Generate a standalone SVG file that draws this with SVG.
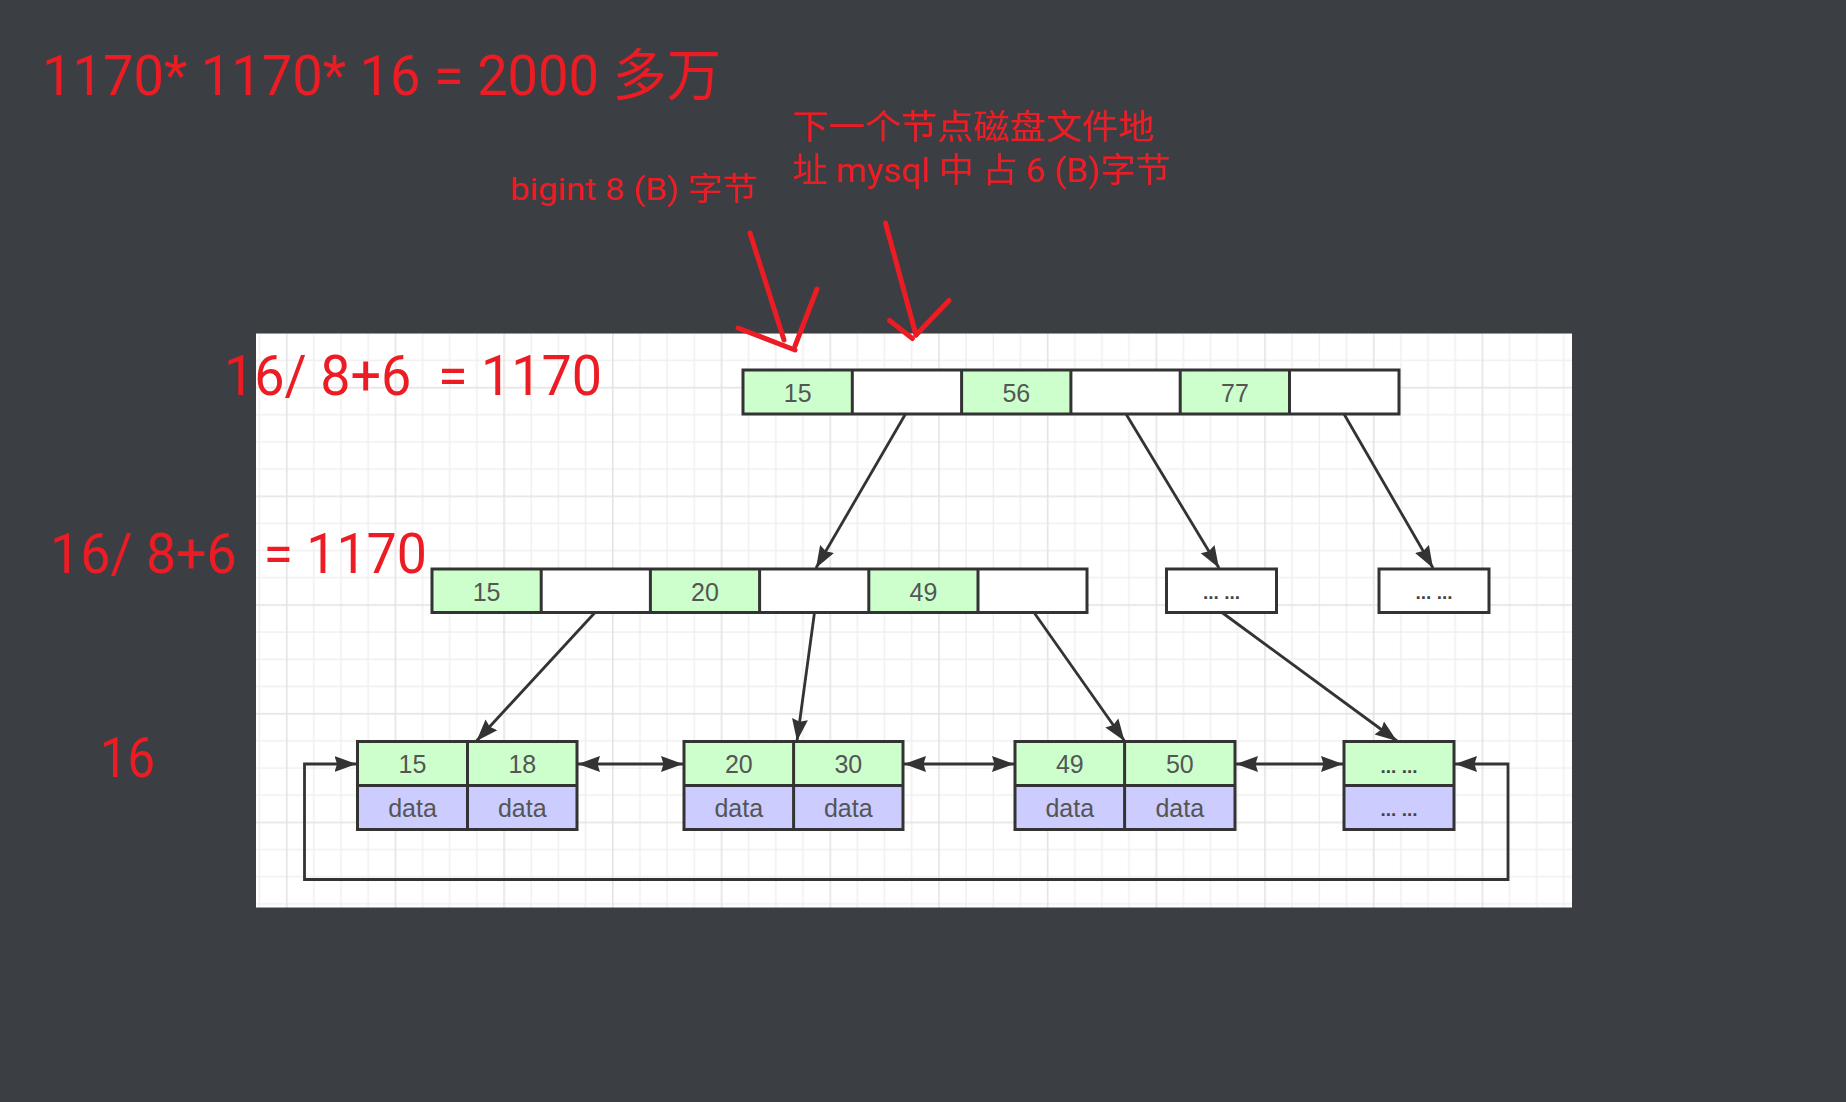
<svg xmlns="http://www.w3.org/2000/svg" width="1846" height="1102" viewBox="0 0 1846 1102">
<style>
.red{fill:#ec1c24;font-family:Roboto,"Noto Sans CJK SC",sans-serif;}
.redline{stroke:#ec1c24;stroke-width:5;stroke-linecap:round;fill:none;}
.box{stroke:#333;stroke-width:3;}
.g{fill:#ccffcc;}
.p{fill:#ccccff;}
.w{fill:#ffffff;}
.div{stroke:#333;stroke-width:3;}
.t{fill:#555;font-family:"Liberation Sans",Arial,sans-serif;font-size:25px;text-anchor:middle;}
.e{fill:#444;font-family:"Liberation Sans",Arial,sans-serif;font-size:19px;font-weight:bold;text-anchor:middle;}
.conn{stroke:#333;stroke-width:2.8;fill:none;}
</style>
<defs>
<marker id="ah" markerUnits="userSpaceOnUse" markerWidth="24" markerHeight="18" refX="22" refY="8.5" orient="auto-start-reverse">
<path d="M0,0.5 L22,8.5 L0,16.5 L2.5,8.5 z" fill="#333"/>
</marker>
<pattern id="grid" patternUnits="userSpaceOnUse" x="285.9" y="604.2" width="108.7" height="108.7">
<rect x="0" y="0" width="108.7" height="108.7" fill="#ffffff"/>
<g fill="#f0f0f0">
<rect x="27.2" y="0" width="1.5" height="108.7"/>
<rect x="54.4" y="0" width="1.5" height="108.7"/>
<rect x="81.5" y="0" width="1.5" height="108.7"/>
<rect x="0" y="27.2" width="108.7" height="1.5"/>
<rect x="0" y="54.4" width="108.7" height="1.5"/>
<rect x="0" y="81.5" width="108.7" height="1.5"/>
</g>
<g fill="#e4e4e4">
<rect x="0" y="0" width="1.6" height="108.7"/>
<rect x="0" y="0" width="108.7" height="1.6"/>
</g>
</pattern>
</defs>
<rect x="0" y="0" width="1846" height="1102" fill="#3b3e42"/>
<rect id="panel" x="256" y="333.5" width="1316" height="574" fill="url(#grid)"/>

<g id="connectors">
<line class="conn" x1="905.5" y1="414" x2="816" y2="568" marker-end="url(#ah)"/>
<line class="conn" x1="1126" y1="414" x2="1219" y2="568" marker-end="url(#ah)"/>
<line class="conn" x1="1344" y1="414" x2="1433" y2="568" marker-end="url(#ah)"/>
<line class="conn" x1="595" y1="612.5" x2="476.5" y2="741" marker-end="url(#ah)"/>
<line class="conn" x1="814.5" y1="612.5" x2="797" y2="741" marker-end="url(#ah)"/>
<line class="conn" x1="1034" y1="612.5" x2="1124.5" y2="741" marker-end="url(#ah)"/>
<line class="conn" x1="1222" y1="612.5" x2="1397" y2="741" marker-end="url(#ah)"/>
<line class="conn" x1="578" y1="764" x2="683" y2="764" marker-start="url(#ah)" marker-end="url(#ah)"/>
<line class="conn" x1="904" y1="764" x2="1014" y2="764" marker-start="url(#ah)" marker-end="url(#ah)"/>
<line class="conn" x1="1236" y1="764" x2="1343" y2="764" marker-start="url(#ah)" marker-end="url(#ah)"/>
<path class="conn" d="M1455,764 H1508 V879.5 H304.5 V764 H356.5" marker-start="url(#ah)" marker-end="url(#ah)"/>
</g>

<g id="root-node">
<rect class="g" x="743" y="370" width="109.3" height="44"/>
<rect class="w" x="852.3" y="370" width="109.3" height="44"/>
<rect class="g" x="961.6" y="370" width="109.3" height="44"/>
<rect class="w" x="1070.9" y="370" width="109.3" height="44"/>
<rect class="g" x="1180.2" y="370" width="109.3" height="44"/>
<rect class="w" x="1289.5" y="370" width="109.5" height="44"/>
<rect class="box" x="743" y="370" width="656" height="44" fill="none"/>
<path class="div" d="M852.3,370V414M961.6,370V414M1070.9,370V414M1180.2,370V414M1289.5,370V414"/>
<text class="t" x="797.7" y="401.5">15</text>
<text class="t" x="1016.3" y="401.5">56</text>
<text class="t" x="1234.9" y="401.5">77</text>
</g>

<g id="mid-node">
<rect class="g" x="432" y="569" width="109.2" height="43.5"/>
<rect class="w" x="541.2" y="569" width="109.2" height="43.5"/>
<rect class="g" x="650.4" y="569" width="109.2" height="43.5"/>
<rect class="w" x="759.6" y="569" width="109.2" height="43.5"/>
<rect class="g" x="868.8" y="569" width="109.2" height="43.5"/>
<rect class="w" x="978" y="569" width="109" height="43.5"/>
<rect class="box" x="432" y="569" width="655" height="43.5" fill="none"/>
<path class="div" d="M541.2,569V612.5M650.4,569V612.5M759.6,569V612.5M868.8,569V612.5M978,569V612.5"/>
<text class="t" x="486.6" y="600.5">15</text>
<text class="t" x="705" y="600.5">20</text>
<text class="t" x="923.4" y="600.5">49</text>
</g>

<g id="mid-more-1">
<rect class="box w" x="1166.5" y="569" width="110" height="43.5"/>
<text class="e" x="1221.5" y="599">... ...</text>
</g>
<g id="mid-more-2">
<rect class="box w" x="1379" y="569" width="110" height="43.5"/>
<text class="e" x="1434" y="599">... ...</text>
</g>

<g id="leaf-1">
<rect class="g" x="357.5" y="741.5" width="219.5" height="44"/>
<rect class="p" x="357.5" y="785.5" width="219.5" height="44"/>
<rect class="box" x="357.5" y="741.5" width="219.5" height="88" fill="none"/>
<path class="div" d="M357.5,785.5H577M467.5,741.5V829.5"/>
<text class="t" x="412.5" y="773">15</text>
<text class="t" x="522.3" y="773">18</text>
<text class="t" x="412.5" y="816.5">data</text>
<text class="t" x="522.3" y="816.5">data</text>
</g>

<g id="leaf-2">
<rect class="g" x="684" y="741.5" width="219" height="44"/>
<rect class="p" x="684" y="785.5" width="219" height="44"/>
<rect class="box" x="684" y="741.5" width="219" height="88" fill="none"/>
<path class="div" d="M684,785.5H903M793.6,741.5V829.5"/>
<text class="t" x="738.8" y="773">20</text>
<text class="t" x="848.3" y="773">30</text>
<text class="t" x="738.8" y="816.5">data</text>
<text class="t" x="848.3" y="816.5">data</text>
</g>

<g id="leaf-3">
<rect class="g" x="1015" y="741.5" width="220" height="44"/>
<rect class="p" x="1015" y="785.5" width="220" height="44"/>
<rect class="box" x="1015" y="741.5" width="220" height="88" fill="none"/>
<path class="div" d="M1015,785.5H1235M1124.6,741.5V829.5"/>
<text class="t" x="1069.8" y="773">49</text>
<text class="t" x="1179.8" y="773">50</text>
<text class="t" x="1069.8" y="816.5">data</text>
<text class="t" x="1179.8" y="816.5">data</text>
</g>

<g id="leaf-4">
<rect class="g" x="1344" y="741.5" width="110" height="44"/>
<rect class="p" x="1344" y="785.5" width="110" height="44"/>
<rect class="box" x="1344" y="741.5" width="110" height="88" fill="none"/>
<path class="div" d="M1344,785.5H1454"/>
<text class="e" x="1399" y="772.5">... ...</text>
<text class="e" x="1399" y="815.5">... ...</text>
</g>

<g id="annotations">
<text class="red" x="42" y="95" font-size="56" textLength="679" lengthAdjust="spacingAndGlyphs" style="white-space:pre">1170* 1170* 16 = 2000 多万</text>
<text class="red" x="510" y="200" font-size="32" textLength="247" lengthAdjust="spacingAndGlyphs" style="white-space:pre">bigint 8 (B) 字节</text>
<text class="red" x="792" y="139" font-size="34" textLength="362" lengthAdjust="spacingAndGlyphs">下一个节点磁盘文件地</text>
<text class="red" x="792" y="182" font-size="34" textLength="378" lengthAdjust="spacingAndGlyphs" style="white-space:pre">址 mysql 中 占 6 (B)字节</text>
<text class="red" x="224" y="395" font-size="56" textLength="378" lengthAdjust="spacingAndGlyphs" style="white-space:pre">16/ 8+6  = 1170</text>
<text class="red" x="50" y="573" font-size="56" textLength="377" lengthAdjust="spacingAndGlyphs" style="white-space:pre">16/ 8+6  = 1170</text>
<text class="red" x="100" y="777" font-size="56" textLength="55" lengthAdjust="spacingAndGlyphs">16</text>
</g>

<g id="red-arrows">
<path class="redline" d="M750,233 L784,340"/>
<path class="redline" d="M738,328 L795,350"/>
<path class="redline" d="M817,289 L795,346"/>
<path class="redline" d="M885.5,223 L916,335"/>
<path class="redline" d="M889.5,320.5 L912.5,338.5"/>
<path class="redline" d="M949,300.5 L916,335"/>
</g>
</svg>
